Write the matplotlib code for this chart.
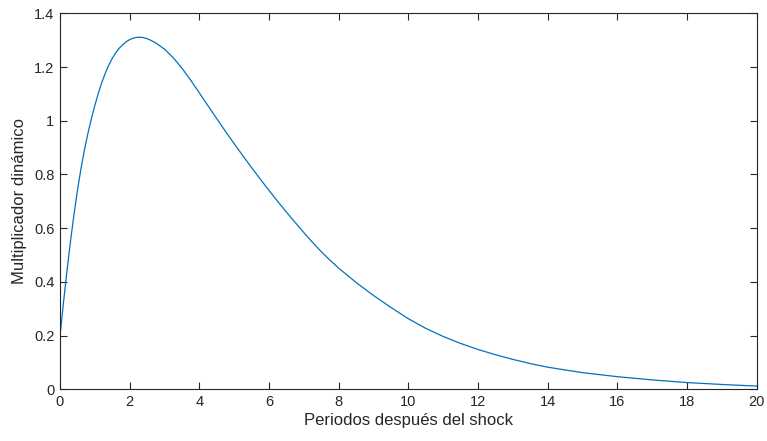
import matplotlib
matplotlib.use("Agg")
import matplotlib.pyplot as plt

periodos = [0.0, 0.1, 0.2, 0.3, 0.4, 0.5, 0.6, 0.7, 0.8, 0.9, 1.0, 1.1, 1.2,
            1.3, 1.4, 1.5, 1.6, 1.7, 1.8, 1.9, 2.0, 2.1, 2.2, 2.3, 2.4, 2.5, 2.6, 2.75,
            3.0, 3.25, 3.5, 3.75, 4.0, 4.25, 4.5, 4.75, 5.0, 5.25, 5.5, 5.75, 6.0,
            6.25, 6.5, 6.75, 7.0, 7.25, 7.5, 7.75, 8.0, 8.5, 9.0, 9.5, 10.0, 10.5,
            11.0, 11.5, 12.0, 12.5, 13.0, 13.5, 14.0, 15.0, 16.0, 17.0, 18.0, 19.0, 20.0]
multiplicador = [0.198, 0.323, 0.440, 0.550, 0.650, 0.740, 0.820, 0.890, 0.952, 1.007,
                 1.057, 1.102, 1.142, 1.177, 1.207, 1.232, 1.253, 1.270, 1.283, 1.294,
                 1.302, 1.3075, 1.3105, 1.311, 1.3095, 1.3055, 1.300, 1.2895, 1.2665,
                 1.2345, 1.1958, 1.1513, 1.1038, 1.0555, 1.0075, 0.9605, 0.9145, 0.8695,
                 0.8255, 0.7825, 0.7405, 0.6995, 0.6598, 0.6213, 0.5833, 0.5468, 0.5123,
                 0.4808, 0.4513, 0.3978, 0.3493, 0.3048, 0.2628, 0.2268, 0.1968, 0.1708,
                 0.1483, 0.1288, 0.1113, 0.0958, 0.0823, 0.062, 0.047, 0.035, 0.025,
                 0.018, 0.012]
xticks = [0, 2, 4, 6, 8, 10, 12, 14, 16, 18, 20]
yticks = [0, 0.2, 0.4, 0.6, 0.8, 1.0, 1.2, 1.4]
ytick_labels = ["0", "0.2", "0.4", "0.6", "0.8", "1", "1.2", "1.4"]

plt.rcParams['font.family'] = ['Liberation Sans', 'DejaVu Sans']
fig = plt.figure(figsize=(7.67, 4.41), dpi=100)
ax = fig.add_axes([60/767, 1 - 389.3/441, (756.7-60)/767, (389.3-13.3)/441])
ax.plot(periodos, multiplicador, color='#0072BD', linewidth=0.9, solid_joinstyle='round')
ax.set_xlim(0, 20)
ax.set_ylim(0, 1.4)
ax.set_xticks(xticks)
ax.set_yticks(yticks)
ax.set_yticklabels(ytick_labels)
edge = '#262626'
for s in ax.spines.values():
    s.set_color(edge)
    s.set_linewidth(0.8)
ax.tick_params(direction='in', length=5, width=0.8, color=edge, labelcolor=edge,
               labelsize=10.5, top=True, right=True, pad=4)
ax.set_xlabel('Periodos después del shock', fontsize=12, color=edge, labelpad=3)
ax.set_ylabel('Multiplicador dinámico', fontsize=12, color=edge, labelpad=5)
fig.savefig('out.png', dpi=100)
